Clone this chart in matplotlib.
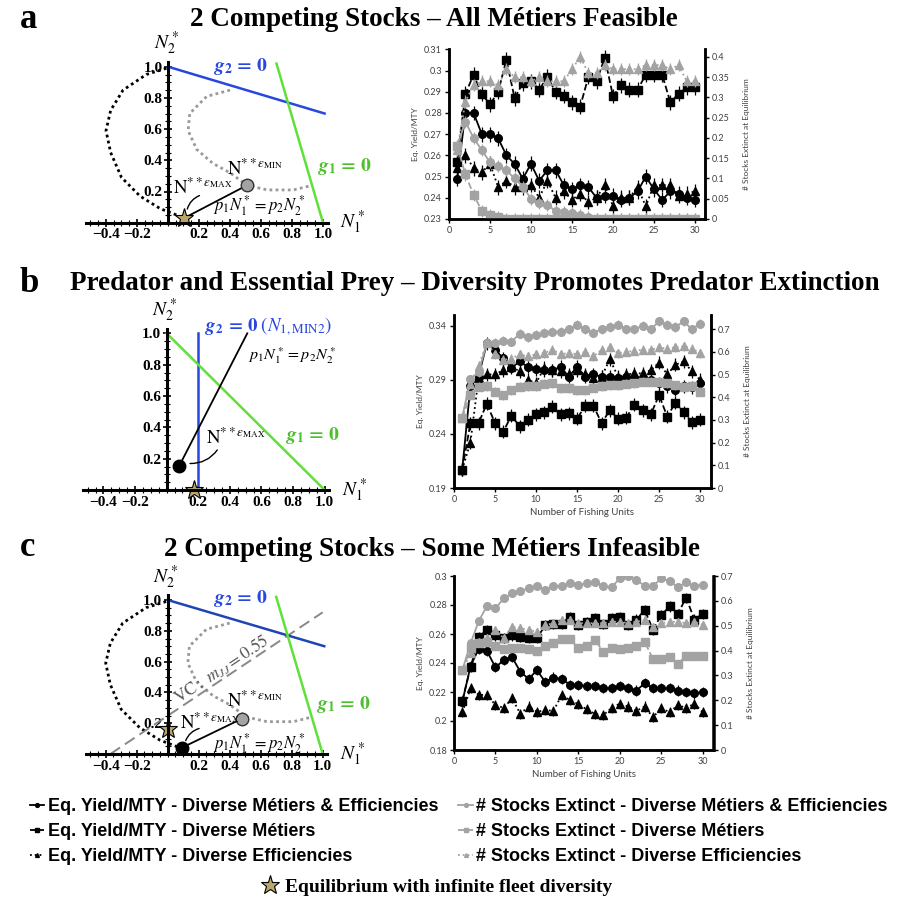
import numpy as np
import matplotlib.pyplot as plt
from matplotlib.ticker import FuncFormatter

plt.rcParams['mathtext.fontset'] = 'stix'
plt.rcParams['font.family'] = ['Lato', 'DejaVu Sans']

W, H = 904, 901

# ---------------- simulation results: x = number of fishing units ----------------
units = list(range(1, 31))

# panel a (left axis Eq. Yield/MTY, right axis # stocks extinct)
a_yield_both = [0.249, 0.280, 0.280, 0.270, 0.270, 0.268, 0.260, 0.256, 0.249, 0.256,
                0.248, 0.253, 0.253, 0.246, 0.244, 0.246, 0.245, 0.240, 0.241, 0.241,
                0.239, 0.240, 0.243, 0.250, 0.244, 0.239, 0.243, 0.242, 0.240, 0.239]
a_yield_metiers = [0.257, 0.289, 0.298, 0.289, 0.284, 0.290, 0.305, 0.287, 0.294, 0.295,
                   0.291, 0.297, 0.290, 0.288, 0.285, 0.283, 0.297, 0.295, 0.306, 0.288,
                   0.293, 0.291, 0.291, 0.298, 0.298, 0.298, 0.285, 0.289, 0.292, 0.292]
a_yield_eff = [0.254, 0.260, 0.254, 0.252, 0.256, 0.245, 0.248, 0.245, 0.245, 0.246,
               0.240, 0.248, 0.240, 0.243, 0.239, 0.242, 0.238, 0.240, 0.246, 0.236,
               0.240, 0.240, 0.245, 0.236, 0.246, 0.246, 0.246, 0.241, 0.242, 0.243]
a_ext_both = [0.18, 0.24, 0.20, 0.17, 0.14, 0.13, 0.12, 0.10, 0.08, 0.05,
              0.04, 0.035, 0.02, 0.018, 0.015, 0.01, 0.005, 0.0, 0.0, 0.0,
              0.0, 0.0, 0.0, 0.0, 0.0, 0.0, 0.0, 0.0, 0.0, 0.0]
a_ext_metiers = [0.18, 0.11, 0.06, 0.02, 0.01, 0.005, 0.0, 0.0, 0.0, 0.0,
                 0.0, 0.0, 0.0, 0.0, 0.0, 0.0, 0.0, 0.0, 0.0, 0.0,
                 0.0, 0.0, 0.0, 0.0, 0.0, 0.0, 0.0, 0.0, 0.0, 0.0]
a_ext_eff = [0.17, 0.29, 0.33, 0.34, 0.34, 0.33, 0.37, 0.35, 0.35, 0.34,
             0.35, 0.34, 0.34, 0.34, 0.37, 0.40, 0.36, 0.36, 0.38, 0.37,
             0.37, 0.37, 0.37, 0.38, 0.38, 0.38, 0.37, 0.38, 0.34, 0.34]

# panel b
b_yield_both = [0.207, 0.284, 0.293, 0.324, 0.318, 0.310, 0.301, 0.307, 0.302, 0.300,
                0.299, 0.299, 0.302, 0.293, 0.302, 0.293, 0.295, 0.293, 0.293, 0.292,
                0.293, 0.292, 0.290, 0.290, 0.287, 0.284, 0.281, 0.284, 0.283, 0.287]
b_yield_metiers = [0.207, 0.250, 0.250, 0.268, 0.250, 0.242, 0.257, 0.247, 0.253, 0.258,
                   0.260, 0.265, 0.258, 0.259, 0.254, 0.266, 0.266, 0.250, 0.262, 0.254,
                   0.255, 0.267, 0.262, 0.258, 0.276, 0.256, 0.269, 0.260, 0.251, 0.253]
b_yield_eff = [0.207, 0.232, 0.292, 0.295, 0.295, 0.299, 0.302, 0.298, 0.290, 0.287,
               0.301, 0.299, 0.298, 0.295, 0.299, 0.295, 0.292, 0.293, 0.309, 0.293,
               0.295, 0.296, 0.296, 0.299, 0.306, 0.295, 0.304, 0.307, 0.298, 0.290]
b_ext_both = [0.31, 0.48, 0.51, 0.64, 0.64, 0.65, 0.645, 0.68, 0.665, 0.675,
              0.685, 0.69, 0.69, 0.70, 0.72, 0.70, 0.685, 0.70, 0.71, 0.72,
              0.70, 0.70, 0.715, 0.70, 0.735, 0.72, 0.71, 0.735, 0.70, 0.725]
b_ext_metiers = [0.31, 0.41, 0.447, 0.45, 0.425, 0.41, 0.432, 0.447, 0.45, 0.45,
                 0.459, 0.462, 0.44, 0.44, 0.432, 0.432, 0.443, 0.45, 0.454, 0.454,
                 0.459, 0.462, 0.469, 0.469, 0.469, 0.462, 0.454, 0.447, 0.45, 0.425]
b_ext_eff = [0.31, 0.46, 0.54, 0.64, 0.59, 0.565, 0.57, 0.59, 0.58, 0.59,
             0.595, 0.61, 0.59, 0.595, 0.59, 0.60, 0.58, 0.61, 0.62, 0.595,
             0.60, 0.605, 0.61, 0.61, 0.62, 0.615, 0.62, 0.625, 0.615, 0.595]

# panel c
c_yield_both = [0.213, 0.238, 0.250, 0.248, 0.237, 0.242, 0.244, 0.234, 0.229, 0.235,
                0.227, 0.230, 0.229, 0.225, 0.225, 0.224, 0.224, 0.223, 0.2225, 0.224,
                0.2225, 0.221, 0.226, 0.2225, 0.2225, 0.2225, 0.221, 0.220, 0.219, 0.220]
c_yield_metiers = [0.214, 0.237, 0.258, 0.263, 0.259, 0.257, 0.259, 0.258, 0.257, 0.257,
                   0.266, 0.267, 0.267, 0.272, 0.266, 0.268, 0.271, 0.267, 0.271, 0.272,
                   0.266, 0.270, 0.2765, 0.263, 0.273, 0.279, 0.274, 0.285, 0.270, 0.274]
c_yield_eff = [0.206, 0.2225, 0.218, 0.218, 0.211, 0.209, 0.2156, 0.205, 0.210, 0.2064,
               0.2075, 0.207, 0.218, 0.2144, 0.2117, 0.208, 0.205, 0.204, 0.209, 0.212,
               0.210, 0.207, 0.210, 0.2025, 0.209, 0.206, 0.211, 0.209, 0.212, 0.206]
c_ext_both = [0.32, 0.43, 0.52, 0.58, 0.57, 0.61, 0.63, 0.64, 0.65, 0.66,
              0.645, 0.66, 0.66, 0.67, 0.665, 0.67, 0.675, 0.66, 0.655, 0.69,
              0.70, 0.685, 0.66, 0.66, 0.69, 0.68, 0.655, 0.675, 0.66, 0.665]
c_ext_metiers = [0.32, 0.41, 0.43, 0.435, 0.42, 0.405, 0.41, 0.41, 0.405, 0.40,
                 0.42, 0.43, 0.445, 0.445, 0.41, 0.42, 0.443, 0.396, 0.41, 0.405,
                 0.41, 0.42, 0.436, 0.365, 0.365, 0.375, 0.346, 0.38, 0.38, 0.38]
c_ext_eff = [0.32, 0.39, 0.436, 0.45, 0.483, 0.45, 0.496, 0.49, 0.483, 0.476,
             0.503, 0.51, 0.523, 0.523, 0.51, 0.51, 0.51, 0.51, 0.516, 0.516,
             0.51, 0.516, 0.523, 0.496, 0.51, 0.516, 0.516, 0.51, 0.516, 0.503]

# error bar half widths (yield, extinct)
a_err = [0.0035, 0.015]
b_err = [0.006, 0.02]
c_err = [0.0035, 0.015]

series_labels = ['Eq. Yield/MTY - Diverse Métiers & Efficiencies',
                 'Eq. Yield/MTY - Diverse Métiers',
                 'Eq. Yield/MTY - Diverse Efficiencies',
                 '# Stocks Extinct - Diverse Métiers & Efficiencies',
                 '# Stocks Extinct - Diverse Métiers',
                 '# Stocks Extinct - Diverse Efficiencies']

# ---------------- phase plane geometry (N1*, N2*) ----------------
# competing stocks (a, c)
comp_g2_n1 = [0.0, 1.01]
comp_g2_n2 = [1.0, 0.70]
comp_g1_n1 = [0.70, 1.0]
comp_g1_n2 = [1.02, 0.0]
comp_outer_n1 = [-0.01, -0.14, -0.29, -0.37, -0.40, -0.37, -0.30, -0.18, -0.05, 0.08]
comp_outer_n2 = [0.99, 0.95, 0.85, 0.72, 0.59, 0.45, 0.29, 0.17, 0.09, 0.04]
comp_inner_n1 = [0.40, 0.25, 0.14, 0.13, 0.185, 0.29, 0.40, 0.51, 0.64, 0.81, 0.93]
comp_inner_n2 = [0.85, 0.81, 0.70, 0.59, 0.47, 0.38, 0.32, 0.24, 0.21, 0.21, 0.24]
a_star = [0.105, 0.03]
a_emin = [0.51, 0.24]
c_star = [0.0, 0.16]
c_emin = [0.48, 0.23]
c_emax = [0.09, 0.04]
c_vc_n1 = [-0.37, 1.0]
c_vc_n2 = [0.0, 0.92]

# predator / prey (b)
b_g2_n1 = [0.2, 0.2]
b_g2_n2 = [0.0, 1.0]
b_g1_n1 = [0.0, 1.0]
b_g1_n2 = [1.0, 0.0]
b_emax = [0.08, 0.155]
b_price_end = [0.51, 1.0]
b_star = [0.17, 0.0]

BLUE = '#2747e0'
GREEN = '#5fe03a'
GRAY = '#a3a3a3'
STAR = '#b9a66b'
SERIF = 'Liberation Serif'
G2 = r'$\mathbfit{g}_\mathbf{2}\mathbf{\,=\,0}$'
G1 = r'$\mathbfit{g}_\mathbf{1}\mathbf{\,=\,0}$'

fig = plt.figure(figsize=(W / 100, H / 100), dpi=100)


def rect(l, t, r, b):
    return [l / W, 1 - b / H, (r - l) / W, (b - t) / H]


def phase_axes(box):
    ax = fig.add_axes(rect(*box))
    ax.set_xlim(-0.6, 1.1)
    ax.set_ylim(-0.15, 1.2)
    for s in ['top', 'right']:
        ax.spines[s].set_visible(False)
    ax.spines['left'].set_position(('data', 0))
    ax.spines['bottom'].set_position(('data', 0))
    ax.spines['bottom'].set_bounds(-0.53, 1.03)
    ax.spines['left'].set_bounds(0, 1.03)
    for s in ['left', 'bottom']:
        ax.spines[s].set_linewidth(2.2)
    ax.patch.set_alpha(0)
    xt = [-0.4, -0.2, 0.2, 0.4, 0.6, 0.8, 1.0]
    ax.set_xticks(xt, labels=['\u22120.4', '\u22120.2', '0.2', '0.4', '0.6', '0.8', '1.0'],
                  fontfamily=SERIF, fontweight='bold', fontsize=11)
    yt = [0.2, 0.4, 0.6, 0.8, 1.0]
    ax.set_yticks(yt, labels=['0.2', '0.4', '0.6', '0.8', '1.0'],
                  fontfamily=SERIF, fontweight='bold', fontsize=11)
    ax.set_xticks(np.arange(-0.5, 1.01, 0.05), minor=True)
    ax.set_yticks(np.arange(0.05, 1.01, 0.05), minor=True)
    ax.tick_params(which='major', direction='inout', length=6, width=1.2, pad=1)
    ax.tick_params(which='minor', direction='inout', length=4, width=0.8)
    ax.text(-0.01, 1.15, r'$N_2^*$', fontsize=14, ha='center', va='center')
    ax.text(1.11, 0.0, r'$N_1^*$', fontsize=14, ha='left', va='center')
    return ax


def fishing_axes(box, xmax, yields, extinct, ylim, yticks, rlim, rticks, err, xlabel=True):
    ax = fig.add_axes(rect(*box))
    ax2 = ax.twinx()
    handles = []
    styles = [('-', 'o'), ('--', 's'), (':', '^')]
    for vals, (ls, mk) in zip(yields, styles):
        ax.errorbar(units, vals, yerr=err[0], fmt='none', ecolor='k', elinewidth=0.9)
        h, = ax.plot(units, vals, color='k', ls=ls, marker=mk, ms=5.5, lw=1.3)
        handles.append(h)
    for vals, (ls, mk) in zip(extinct, styles):
        ax2.errorbar(units, vals, yerr=err[1], fmt='none', ecolor=GRAY, elinewidth=0.9)
        h, = ax2.plot(units, vals, color=GRAY, ls=ls, marker=mk, ms=5.5, lw=1.3)
        handles.append(h)
    ax.set_xlim(0, xmax)
    ax.set_ylim(*ylim)
    ax2.set_ylim(*rlim)
    ax.set_xticks([0, 5, 10, 15, 20, 25, 30])
    ax.set_yticks(yticks)
    ax2.set_yticks(rticks)
    fmt = FuncFormatter(lambda v, p: f'{v:g}')
    ax.yaxis.set_major_formatter(fmt)
    ax2.yaxis.set_major_formatter(fmt)
    for a in (ax, ax2):
        a.spines['top'].set_visible(False)
        for s in ['left', 'right', 'bottom']:
            a.spines[s].set_linewidth(1.8)
        a.tick_params(direction='out', length=3, width=1, labelsize=6.5,
                      labelcolor='#404040', pad=2)
    ax.set_ylabel('Eq. Yield/MTY', fontsize=6, color='#404040', labelpad=4)
    ax2.set_ylabel('# Stocks Extinct at Equilibrium', fontsize=6, color='#404040', labelpad=10)
    if xlabel:
        ax.set_xlabel('Number of Fishing Units', fontsize=7, color='#404040', labelpad=3)
    return handles


# ---------------- panel a ----------------
fig.text(20 / W, 1 - 20 / H, 'a', fontsize=25, fontweight='bold', family=SERIF, va='center')
fig.text(434 / W, 1 - 19 / H, '2 Competing Stocks \u2013 All Métiers Feasible',
         fontsize=19.5, fontweight='bold', family=SERIF, ha='center', va='center')

pa = phase_axes((75, 35.5, 338.5, 246.1))
pa.plot(comp_outer_n1, comp_outer_n2, color='k', ls=(0, (1, 1.2)), lw=2)
pa.plot(comp_inner_n1, comp_inner_n2, color='#999999', ls=(0, (1, 1.2)), lw=2)
pa.plot(comp_g2_n1, comp_g2_n2, color=BLUE, lw=1.8)
pa.plot(comp_g1_n1, comp_g1_n2, color=GREEN, lw=1.8)
pa.plot([a_star[0], a_emin[0]], [a_star[1], a_emin[1]], color='k', lw=1.3)
pa.plot(*a_emin, 'o', ms=9, mfc=GRAY, mec='#333333', mew=1)
star_handle, = pa.plot(*a_star, '*', ms=14, mfc=STAR, mec='k', mew=0.8)
pa.text(0.29, 1.0, G2, color=BLUE, fontsize=14, va='center')
pa.text(0.96, 0.36, G1, color='#4cc02c', fontsize=14, va='center')
pa.text(0.38, 0.35, r'$\mathrm{N}^{**\epsilon_{\mathrm{MIN}}}$', fontsize=13.5, va='center')
pa.text(0.035, 0.23, r'$\mathrm{N}^{**\epsilon_{\mathrm{MAX}}}$', fontsize=13.5, va='center')
pa.text(0.29, 0.11, r'$p_1N_1^* = p_2N_2^*$', fontsize=12, va='center')
pa.annotate('', xy=(0.12, 0.07), xytext=(0.22, 0.18),
            arrowprops=dict(arrowstyle='-', lw=1, connectionstyle='arc3,rad=0.3'))

handles = fishing_axes((449, 49.3, 704.8, 219), 31.2,
                       [a_yield_both, a_yield_metiers, a_yield_eff],
                       [a_ext_both, a_ext_metiers, a_ext_eff],
                       (0.23, 0.31), [0.23, 0.24, 0.25, 0.26, 0.27, 0.28, 0.29, 0.30, 0.31],
                       (0, 0.419), [0, 0.05, 0.1, 0.15, 0.2, 0.25, 0.3, 0.35, 0.4],
                       a_err, xlabel=False)

# ---------------- panel b ----------------
fig.text(20 / W, 1 - 284 / H, 'b', fontsize=25, fontweight='bold', family=SERIF, va='center')
fig.text(475 / W, 1 - 284 / H,
         'Predator and Essential Prey \u2013 Diversity Promotes Predator Extinction',
         fontsize=19.5, fontweight='bold', family=SERIF, ha='center', va='center')

pb = phase_axes((71.9, 302, 340.5, 513.5))
pb.plot(b_g2_n1, b_g2_n2, color=BLUE, lw=1.8)
pb.plot(b_g1_n1, b_g1_n2, color=GREEN, lw=1.8)
pb.plot([b_emax[0], b_price_end[0]], [b_emax[1], b_price_end[1]], color='k', lw=1.3)
pb.plot(*b_emax, 'o', ms=9, color='k')
pb.plot(*b_star, '*', ms=14, mfc=STAR, mec='k', mew=0.8, clip_on=False)
pb.text(0.24, 1.04, r'$\mathbfit{g}_\mathbf{2}\mathbf{\,=\,0}\ (N_{1,\mathrm{MIN2}})$',
        color=BLUE, fontsize=13.5, va='center')
pb.text(0.515, 0.86, r'$p_1N_1^* = p_2N_2^*$', fontsize=11.5, va='center')
pb.text(0.25, 0.34, r'$\mathrm{N}^{**\epsilon_{\mathrm{MAX}}}$', fontsize=13.5, va='center')
pb.text(0.75, 0.35, G1, color='#4cc02c', fontsize=14, va='center')
pb.annotate('', xy=(0.33, 0.27), xytext=(0.13, 0.17),
            arrowprops=dict(arrowstyle='-', lw=1, connectionstyle='arc3,rad=0.3'))

fishing_axes((454, 315, 710.7, 488), 31.3,
             [b_yield_both, b_yield_metiers, b_yield_eff],
             [b_ext_both, b_ext_metiers, b_ext_eff],
             (0.19, 0.35), [0.19, 0.24, 0.29, 0.34],
             (0, 0.763), [0, 0.1, 0.2, 0.3, 0.4, 0.5, 0.6, 0.7], b_err)

# ---------------- panel c ----------------
fig.text(20 / W, 1 - 547 / H, 'c', fontsize=25, fontweight='bold', family=SERIF, va='center')
fig.text(432 / W, 1 - 549 / H, '2 Competing Stocks \u2013 Some Métiers Infeasible',
         fontsize=19.5, fontweight='bold', family=SERIF, ha='center', va='center')

pc = phase_axes((74.7, 569.2, 338.2, 777.1))
pc.plot(comp_outer_n1, comp_outer_n2, color='k', ls=(0, (1, 1.2)), lw=2)
pc.plot(comp_inner_n1, comp_inner_n2, color='#999999', ls=(0, (1, 1.2)), lw=2)
pc.plot(c_vc_n1, c_vc_n2, color='#888888', ls=(0, (6, 3)), lw=1.4)
pc.plot(comp_g2_n1, comp_g2_n2, color='#1f45b5', lw=1.8)
pc.plot(comp_g1_n1, comp_g1_n2, color=GREEN, lw=1.8)
pc.plot([c_emax[0], c_emin[0]], [c_emax[1], c_emin[1]], color='k', lw=1.3)
pc.plot(*c_emin, 'o', ms=9, mfc=GRAY, mec='#333333', mew=1)
pc.plot(*c_emax, 'o', ms=9, color='k')
pc.plot(*c_star, '*', ms=14, mfc=STAR, mec='k', mew=0.8)
pc.text(0.29, 1.01, G2, color=BLUE, fontsize=14, va='center')
pc.text(0.96, 0.32, G1, color='#4cc02c', fontsize=14, va='center')
pc.text(0.38, 0.35, r'$\mathrm{N}^{**\epsilon_{\mathrm{MIN}}}$', fontsize=13.5, va='center')
pc.text(0.08, 0.21, r'$\mathrm{N}^{**\epsilon_{\mathrm{MAX}}}$', fontsize=13.5, va='center')
pc.text(0.29, 0.07, r'$p_1N_1^* = p_2N_2^*$', fontsize=12, va='center')
pc.text(0.35, 0.55, r'$\mathrm{VC}{:}\ m_{JJ} = 0.55$', fontsize=12.5, color='#555555',
        rotation=33.5, ha='center', va='center')
pc.annotate('', xy=(0.11, 0.07), xytext=(0.22, 0.17),
            arrowprops=dict(arrowstyle='-', lw=1, connectionstyle='arc3,rad=0.3'))

fishing_axes((454, 576, 713.5, 750), 31.3,
             [c_yield_both, c_yield_metiers, c_yield_eff],
             [c_ext_both, c_ext_metiers, c_ext_eff],
             (0.18, 0.30), [0.18, 0.2, 0.22, 0.24, 0.26, 0.28, 0.3],
             (0, 0.7), [0, 0.1, 0.2, 0.3, 0.4, 0.5, 0.6, 0.7], c_err)

# ---------------- legends ----------------
fig.legend(handles, series_labels, ncol=2, loc='upper left',
           bbox_to_anchor=(30 / W, 1 - 798 / H), frameon=False, borderpad=0, borderaxespad=0,
           handlelength=0.8, handletextpad=0.2, columnspacing=1.1, labelspacing=0.45,
           markerscale=0.5,
           prop={'family': 'Liberation Sans', 'weight': 'bold', 'size': 13})
fig.legend([star_handle], ['Equilibrium with infinite fleet diversity'], loc='center',
           bbox_to_anchor=(436 / W, 1 - 887 / H), frameon=False, borderpad=0, borderaxespad=0,
           handlelength=1.0, handletextpad=0.3,
           prop={'family': SERIF, 'weight': 'bold', 'size': 14})

fig.savefig('out.png', dpi=100)
